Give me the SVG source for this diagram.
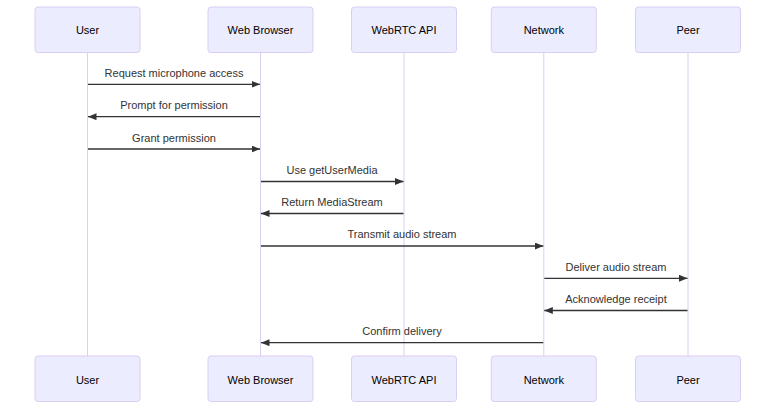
<svg xmlns="http://www.w3.org/2000/svg" width="784" height="415" viewBox="0 0 784 415">
<style>
.actor{fill:#ECECFF;stroke:#DACEF3;stroke-width:1}
.atext{font-family:"Liberation Sans",Arial,sans-serif;font-size:11px;fill:#000;text-anchor:middle;dominant-baseline:central}
.life{stroke:#DACEF3;stroke-width:1}
.msg{stroke:#333;stroke-width:1.3;fill:none;marker-end:url(#arrow)}
.mtext{font-family:"Liberation Sans",Arial,sans-serif;font-size:11px;fill:#333;text-anchor:middle;dominant-baseline:central}
</style>
<defs>
<marker id="arrow" markerUnits="userSpaceOnUse" markerWidth="9" markerHeight="8" refX="8.5" refY="3.5" orient="auto">
<path d="M0,0 L8.5,3.5 L0,7 z" fill="#333"/>
</marker>
</defs>
<g id="lifelines">
<line class="life" x1="87.5" y1="52" x2="87.5" y2="356"/>
<line class="life" x1="260.5" y1="52" x2="260.5" y2="356"/>
<line class="life" x1="404" y1="52" x2="404" y2="356"/>
<line class="life" x1="543.8" y1="52" x2="543.8" y2="356"/>
<line class="life" x1="688" y1="52" x2="688" y2="356"/>
</g>
<g id="actor-user">
<rect class="actor" x="35" y="7" width="105" height="45.5" rx="3"/>
<text class="atext" x="87.5" y="30">User</text>
<rect class="actor" x="35" y="356" width="105" height="45.5" rx="3"/>
<text class="atext" x="87.5" y="379.5">User</text>
</g>
<g id="actor-browser">
<rect class="actor" x="208" y="7" width="105" height="45.5" rx="3"/>
<text class="atext" x="260.5" y="30">Web Browser</text>
<rect class="actor" x="208" y="356" width="105" height="45.5" rx="3"/>
<text class="atext" x="260.5" y="379.5">Web Browser</text>
</g>
<g id="actor-webrtc">
<rect class="actor" x="351.5" y="7" width="105" height="45.5" rx="3"/>
<text class="atext" x="404" y="30">WebRTC API</text>
<rect class="actor" x="351.5" y="356" width="105" height="45.5" rx="3"/>
<text class="atext" x="404" y="379.5">WebRTC API</text>
</g>
<g id="actor-network">
<rect class="actor" x="491.3" y="7" width="105" height="45.5" rx="3"/>
<text class="atext" x="543.8" y="30">Network</text>
<rect class="actor" x="491.3" y="356" width="105" height="45.5" rx="3"/>
<text class="atext" x="543.8" y="379.5">Network</text>
</g>
<g id="actor-peer">
<rect class="actor" x="635.5" y="7" width="105" height="45.5" rx="3"/>
<text class="atext" x="688" y="30">Peer</text>
<rect class="actor" x="635.5" y="356" width="105" height="45.5" rx="3"/>
<text class="atext" x="688" y="379.5">Peer</text>
</g>
<g id="messages">
<line class="msg" x1="88" y1="84.3" x2="260" y2="84.3"/>
<text class="mtext" x="174" y="72.7">Request microphone access</text>
<line class="msg" x1="260" y1="116.7" x2="88" y2="116.7"/>
<text class="mtext" x="174" y="105">Prompt for permission</text>
<line class="msg" x1="88" y1="149" x2="260" y2="149"/>
<text class="mtext" x="174" y="137.7">Grant permission</text>
<line class="msg" x1="261" y1="181.5" x2="403.5" y2="181.5"/>
<text class="mtext" x="332" y="170">Use getUserMedia</text>
<line class="msg" x1="403.5" y1="213.5" x2="261" y2="213.5"/>
<text class="mtext" x="332" y="202">Return MediaStream</text>
<line class="msg" x1="261" y1="246" x2="543.3" y2="246"/>
<text class="mtext" x="402" y="234.3">Transmit audio stream</text>
<line class="msg" x1="544.3" y1="278.3" x2="687.5" y2="278.3"/>
<text class="mtext" x="616" y="266.7">Deliver audio stream</text>
<line class="msg" x1="687.5" y1="310.5" x2="544.3" y2="310.5"/>
<text class="mtext" x="616" y="299">Acknowledge receipt</text>
<line class="msg" x1="543.3" y1="342.7" x2="261" y2="342.7"/>
<text class="mtext" x="402" y="331">Confirm delivery</text>
</g>
</svg>
